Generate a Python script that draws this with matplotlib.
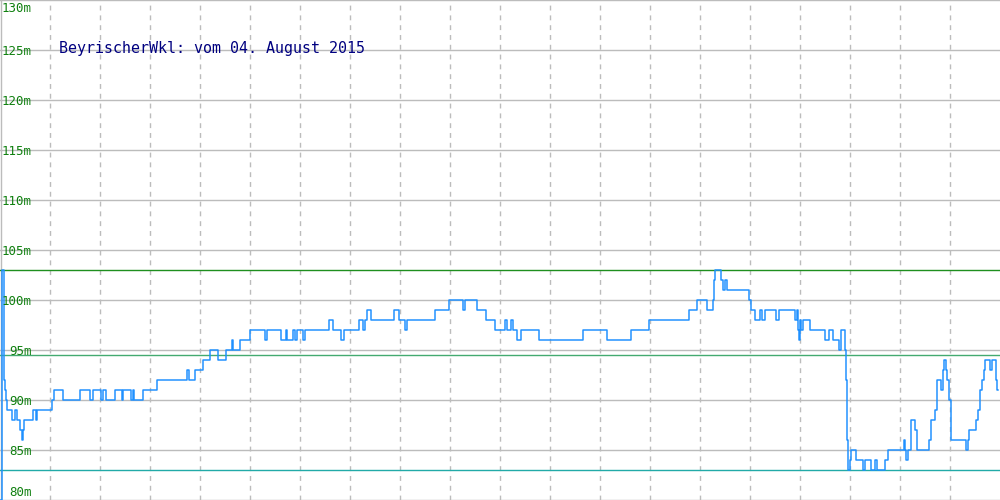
import matplotlib
matplotlib.use("Agg")
import matplotlib.pyplot as plt

# Pegel-Verlauf (Pixel-Index, Wert in m) als Stufen
x_pos = [0, 1.5, 3.5, 5, 6, 7, 12, 15, 17, 20, 22, 23, 24, 33, 36, 37, 52, 54, 63, 80,
         90, 93, 101, 103, 106, 115, 122, 123, 131, 133, 134, 143, 157, 187, 189, 195,
         203, 210, 218, 226, 232, 233, 240, 250, 265, 267, 281, 286, 287, 293, 295, 297,
         303, 305, 329, 333, 341, 344, 359, 363, 365, 367, 371, 394, 399, 405, 407, 435,
         449, 463, 465, 477, 486, 495, 505, 507, 511, 513, 517, 521, 539, 583, 607, 631,
         649, 689, 697, 707, 713, 714, 715, 721, 723, 725, 727, 749, 751, 755, 760, 762,
         765, 776, 779, 795, 797, 798, 799, 800, 801, 803, 810, 825, 829, 833, 839, 841,
         845, 846, 847, 848, 850, 851, 856, 863, 865, 871, 875, 877, 885, 888, 904, 905,
         906, 908, 911, 915, 917, 929, 931, 935, 937, 941, 943, 944, 946, 947, 949, 951,
         966, 968, 969, 976, 978, 980, 982, 984, 985, 990, 992, 996, 997]
level = [80, 103, 92, 91, 90, 89, 88, 89, 88, 87, 86, 87, 88, 89, 88, 89, 90, 91, 90, 91,
         90, 91, 90, 91, 90, 91, 90, 91, 90, 91, 90, 91, 92, 93, 92, 93,
         94, 95, 94, 95, 96, 95, 96, 97, 96, 97, 96, 97, 96, 97, 96, 97,
         96, 97, 98, 97, 96, 97, 98, 97, 98, 99, 98, 99, 98, 97, 98, 99,
         100, 99, 100, 99, 98, 97, 98, 97, 98, 97, 96, 97, 96, 97, 96, 97,
         98, 99, 100, 99, 100, 102, 103, 102, 101, 102, 101, 100, 99, 98, 99, 98,
         99, 98, 99, 98, 99, 97, 96, 98, 97, 98, 97, 96, 97, 96, 95, 97,
         95, 92, 86, 83, 84, 85, 84, 83, 84, 83, 84, 83, 84, 85, 86, 85,
         84, 85, 88, 87, 85, 86, 88, 89, 92, 91, 93, 94, 93, 92, 90, 86,
         85, 86, 87, 88, 89, 91, 92, 93, 94, 93, 94, 92, 91]
x_end = 998

max_level = 103
mean_level = 94.5
min_level = 83

y_ticks = [80, 85, 90, 95, 100, 105, 110, 115, 120, 125, 130]
y_labels = ['80m', '85m', '90m', '95m', '100m', '105m', '110m', '115m', '120m', '125m', '130m']
x_grid = list(range(50, 1000, 50))

title = 'BeyrischerWkl: vom 04. August 2015'

fig = plt.figure(figsize=(10, 5), dpi=100)
ax = fig.add_axes([0, 0, 1, 1])
ax.set_xlim(0, 1000)
ax.set_ylim(80, 130)
ax.axis('off')

px = 0.72  # 1 Pixel in Punkt

for v in y_ticks:
    ax.axhline(v, color='#bcbcbc', lw=1.4 * px, zorder=1)
for xv in x_grid:
    ax.axvline(xv, color='#bcbcbc', lw=1.4 * px, dashes=(3.5, 3.5), zorder=1)
ax.axvline(0.6, color='#bcbcbc', lw=1.4 * px, zorder=1)

ax.axhline(max_level, color='#1f8f1f', lw=1.4 * px, zorder=2)
ax.axhline(mean_level, color='#44aa70', lw=1.4 * px, zorder=2)
ax.axhline(min_level, color='#22aaa8', lw=1.4 * px, zorder=2)

ax.plot(x_pos + [x_end], level + [level[-1]], drawstyle='steps-post',
        color='#1e90ff', lw=1.5 * px, zorder=3)

for v, lab in zip(y_ticks, y_labels):
    if v == 130:
        ax.text(32, v - 0.25, lab, ha='right', va='top', color='#108010',
                family='DejaVu Sans Mono', fontsize=9)
    elif v == 80:
        ax.text(32, v + 0.1, lab, ha='right', va='bottom', color='#108010',
                family='DejaVu Sans Mono', fontsize=9)
    else:
        ax.text(32, v - 0.15, lab, ha='right', va='center', color='#108010',
                family='DejaVu Sans Mono', fontsize=9)

ax.text(59, 125.2, title, ha='left', va='center', color='#000080',
        family='DejaVu Sans Mono', fontsize=10.8)

fig.savefig('out.png', dpi=100)
